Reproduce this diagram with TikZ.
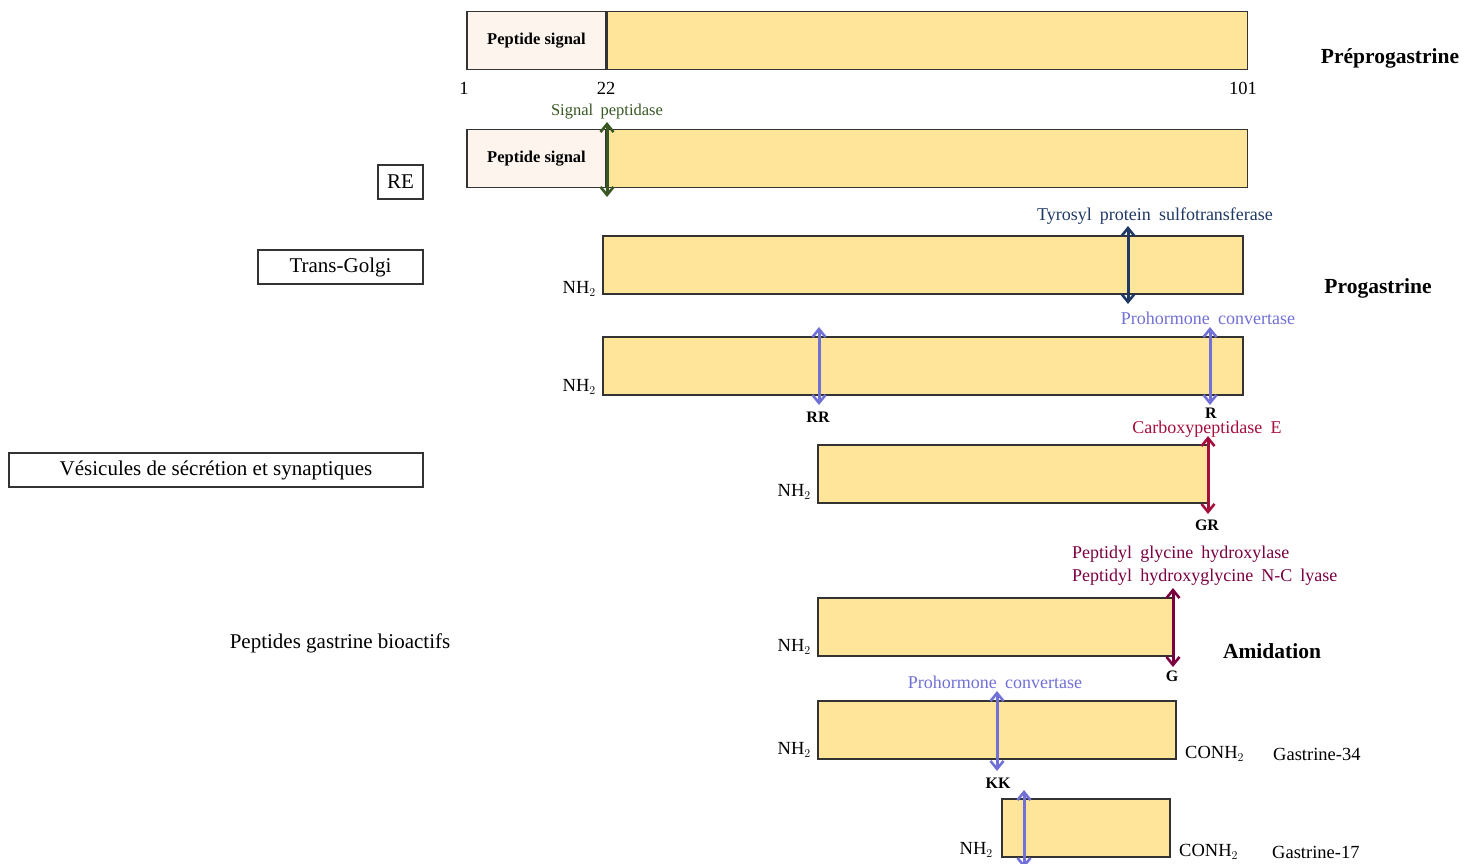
\documentclass[tikz,border=0pt]{standalone}
\usepackage{fontspec}
\setmainfont{Liberation Serif}
\usepackage{tikz}
\usetikzlibrary{arrows.meta, positioning, calc}
\definecolor{barfill}{RGB}{255,229,153}
\definecolor{sigfill}{RGB}{253,244,238}
\definecolor{spgreen}{RGB}{56,87,35}
\definecolor{tpsnavy}{RGB}{31,56,100}
\definecolor{pcviolet}{RGB}{112,112,214}
\definecolor{cpecrim}{RGB}{165,15,60}
\definecolor{pghmaroon}{RGB}{122,0,64}
\newcommand\widewords{\spaceskip 0.45em\relax}

\tikzset{
  bar/.style={draw=black!80, fill=barfill, line width=1.2pt, inner sep=0pt, minimum height=58pt},
  sigbox/.style={draw=black!80, fill=sigfill, line width=1.2pt, inner sep=0pt, minimum height=58pt, font=\fontsize{16.5}{19}\selectfont\bfseries},
  place/.style={draw=black!80, line width=1.2pt, inner sep=0pt, minimum height=34pt, font=\fontsize{21}{24}\selectfont},
  enz/.style={font=\fontsize{18}{23}\selectfont\widewords, inner sep=1pt},
  res/.style={font=\fontsize{16}{18}\selectfont\bfseries, inner sep=1pt},
  term/.style={font=\fontsize{18.5}{21}\selectfont, inner sep=1pt},
  title/.style={font=\fontsize{21.5}{24}\selectfont\bfseries, inner sep=1pt},
  cut/.style={<->, >={Straight Barb[length=8pt,width=13pt,line width=2.6pt]}, line width=3pt}
}

\begin{document}
\begin{tikzpicture}[x=1pt, y=-1pt]
\useasboundingbox (0,0) rectangle (1478,864);

% Préprogastrine
\node[sigbox, minimum width=139pt] (sig1) at (536.5,40.5) {Peptide signal};
\node[bar, minimum width=640pt, anchor=west] (pre1) at (sig1.east) {};
\node[term] (n1) at (464,88) {1};
\node[term] (n22) at (606,88) {22};
\node[term] (n101) at (1243,88) {101};
\node[title] (prepro) at (1390,58) {Préprogastrine};

% RE
\node[enz, text=spgreen, font=\fontsize{16.5}{19}\selectfont\widewords] (sp) at (607,112) {Signal peptidase};
\node[sigbox, minimum width=139pt] (sig2) at (536.5,158.5) {Peptide signal};
\node[bar, minimum width=640pt, anchor=west] (pre2) at (sig2.east) {};
\node[place, minimum width=45pt] (re) at (400.5,182) {RE};
\coordinate (spa) at (607,122);
\coordinate (spb) at (607,197);
\draw[cut, spgreen] (spa) -- (spb);

% Trans-Golgi
\node[place, minimum width=165pt] (golgi) at (340.5,267) {Trans-Golgi};
\node[enz, text=tpsnavy] (tps) at (1155,216) {Tyrosyl protein sulfotransferase};
\node[bar, minimum width=640pt] (pro1) at (923,265) {};
\node[term, anchor=east] (nh3) at (597,289) {NH$_2$};
\coordinate (tpsa) at (1128,226);
\coordinate (tpsb) at (1128,304);
\draw[cut, tpsnavy] (tpsa) -- (tpsb);
\node[title] (progas) at (1378,288) {Progastrine};

\node[enz, text=pcviolet] (pc1) at (1208,318) {Prohormone convertase};
\node[bar, minimum width=640pt] (pro2) at (923,366) {};
\node[term, anchor=east] (nh4) at (597,387) {NH$_2$};
\coordinate (rra) at (819,327);
\coordinate (rrb) at (819,405);
\coordinate (ra) at (1210,327);
\coordinate (rb) at (1210,405);
\draw[cut, pcviolet] (rra) -- (rrb);
\draw[cut, pcviolet] (ra) -- (rb);
\node[res] (rr) at (818,417) {RR};
\node[res] (r) at (1211,413) {R};

% Vésicules
\node[place, minimum width=414pt] (ves) at (216,470) {Vésicules de sécrétion et synaptiques};
\node[enz, text=cpecrim] (cpe) at (1207,429) {Carboxypeptidase E};
\node[bar, minimum width=390pt] (gly) at (1013,474) {};
\node[term, anchor=east] (nh5) at (812,492) {NH$_2$};
\coordinate (gra) at (1208,436);
\coordinate (grb) at (1208,514);
\draw[cut, cpecrim] (gra) -- (grb);
\node[res] (gr) at (1207,525) {GR};

% Amidation
\node[enz, text=pghmaroon, anchor=west, align=left] (pgh) at (1071,566)
  {Peptidyl glycine hydroxylase\\Peptidyl hydroxyglycine N-C lyase};
\node[bar, minimum width=355pt] (amid) at (995.5,627) {};
\node[term, anchor=east] (nh6) at (812,647) {NH$_2$};
\coordinate (ga) at (1173,588);
\coordinate (gb) at (1173,667);
\draw[cut, pghmaroon] (ga) -- (gb);
\node[res] (g) at (1172,676) {G};
\node[title] (amidt) at (1272,651) {Amidation};

% Peptides bioactifs
\node[font=\fontsize{21}{24}\selectfont] (bio) at (340,643) {Peptides gastrine bioactifs};
\node[enz, text=pcviolet] (pc2) at (995,682) {Prohormone convertase};
\node[bar, minimum width=358pt] (g34) at (997,730) {};
\node[term, anchor=east] (nh7) at (812,750) {NH$_2$};
\node[term, anchor=west] (co7) at (1184,754) {CONH$_2$};
\node[term, anchor=west] (gas34) at (1272,754) {Gastrine-34};
\coordinate (kka) at (997,691);
\coordinate (kkb) at (997,771);
\draw[cut, pcviolet] (kka) -- (kkb);
\node[res] (kk) at (998,783) {KK};

\node[bar, minimum width=168pt] (g17) at (1086,828) {};
\node[term, anchor=east] (nh8) at (994,850) {NH$_2$};
\node[term, anchor=west] (co8) at (1178,852) {CONH$_2$};
\node[term, anchor=west] (gas17) at (1271,852) {Gastrine-17};
\coordinate (g17a) at (1024,790);
\coordinate (g17b) at (1024,868);
\draw[cut, pcviolet] (g17a) -- (g17b);
\end{tikzpicture}
\end{document}
